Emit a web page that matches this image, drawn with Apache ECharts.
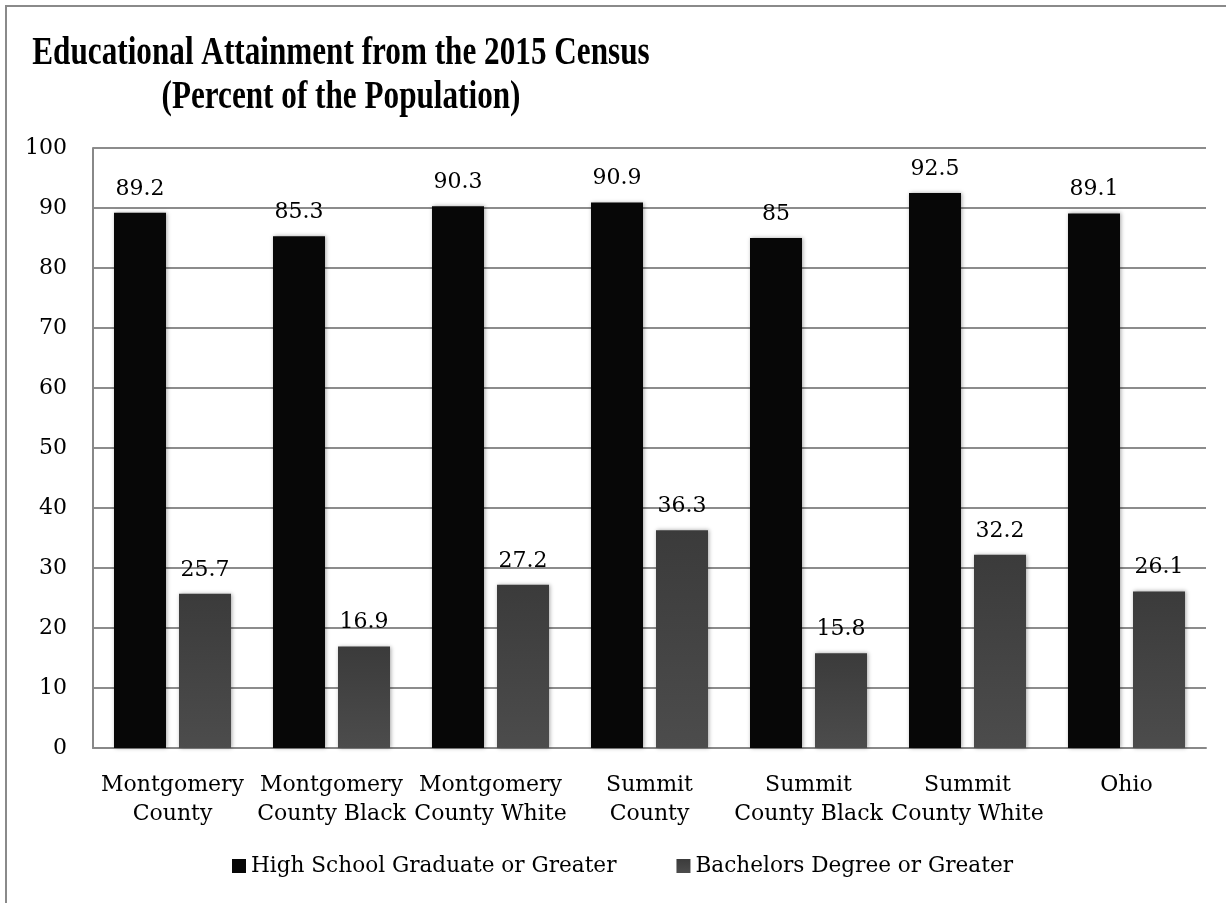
<!DOCTYPE html>
<html>
<head>
<meta charset="utf-8">
<script src="https://cdn.jsdelivr.net/npm/echarts@6/dist/echarts.min.js"></script>
<style>
  html, body { margin: 0; padding: 0; background: #ffffff; }
  #chart { width: 1226px; height: 903px; }
</style>
</head>
<body>
<div id="chart"></div>
<script>
// Census 2015 educational attainment, percent of population
const categories = [
  'Montgomery\nCounty',
  'Montgomery\nCounty Black',
  'Montgomery\nCounty White',
  'Summit\nCounty',
  'Summit\nCounty Black',
  'Summit\nCounty White',
  'Ohio'
];
const highSchool = [89.2, 85.3, 90.3, 90.9, 85, 92.5, 89.1];
const bachelors = [25.7, 16.9, 27.2, 36.3, 15.8, 32.2, 26.1];
const seriesNames = ['High School Graduate or Greater', 'Bachelors Degree or Greater'];
const titleLines = ['Educational Attainment from the 2015 Census', '(Percent of the Population)'];

const serif = '"DejaVu Serif", "Liberation Serif", serif';
const titleFont = 'bold 39px "Liberation Serif", serif';

const chart = echarts.init(document.getElementById('chart'), null, { renderer: 'canvas' });

const labelStyle = {
  show: true,
  position: 'top',
  distance: 13,
  fontFamily: serif,
  fontSize: 22,
  color: '#000'
};

// condensed bold heading, drawn as two centred lines
const titleText = (text, y) => ({
  type: 'text',
  silent: true,
  x: 341,
  y: y,
  scaleX: 0.8,
  style: {
    text: text,
    font: titleFont,
    fill: '#000',
    textAlign: 'center',
    textVerticalAlign: 'middle'
  }
});

chart.setOption({
  backgroundColor: '#ffffff',
  animation: false,
  graphic: [
    {
      type: 'rect',
      silent: true,
      shape: { x: 6, y: 6, width: 1400, height: 1000 },
      style: { fill: 'none', stroke: '#8a8a8a', lineWidth: 2 }
    },
    titleText(titleLines[0], 54),
    titleText(titleLines[1], 98)
  ],
  legend: {
    data: seriesNames,
    bottom: 21,
    left: 227,
    itemWidth: 14,
    itemHeight: 14,
    itemGap: 60,
    icon: 'rect',
    textStyle: { fontFamily: serif, fontSize: 21.6, color: '#000', padding: [0, 0, 0, 0] }
  },
  grid: { left: 93, right: 20, top: 148, bottom: 155 },
  xAxis: {
    type: 'category',
    data: categories,
    axisLine: { lineStyle: { color: '#888', width: 2 } },
    axisTick: { show: false },
    axisLabel: {
      fontFamily: serif,
      fontSize: 22,
      lineHeight: 29,
      color: '#000',
      margin: 23,
      interval: 0
    }
  },
  yAxis: {
    type: 'value',
    min: 0,
    max: 100,
    interval: 10,
    axisLine: { show: true, lineStyle: { color: '#888', width: 2 } },
    axisTick: { show: false },
    splitLine: { lineStyle: { color: '#8c8c8c', width: 2 } },
    axisLabel: { fontFamily: serif, fontSize: 22, color: '#000', margin: 26 }
  },
  series: [
    {
      name: seriesNames[0],
      type: 'bar',
      data: highSchool,
      barWidth: 52,
      barGap: '25%',
      itemStyle: {
        color: '#070707',
        shadowColor: 'rgba(0,0,0,0.35)',
        shadowBlur: 4,
        shadowOffsetX: 1
      },
      label: labelStyle
    },
    {
      name: seriesNames[1],
      type: 'bar',
      data: bachelors,
      barWidth: 52,
      itemStyle: {
        color: new echarts.graphic.LinearGradient(0, 0, 0, 1, [
          { offset: 0, color: '#3b3b3b' },
          { offset: 1, color: '#4c4c4c' }
        ]),
        shadowColor: 'rgba(0,0,0,0.35)',
        shadowBlur: 4,
        shadowOffsetX: 1
      },
      label: labelStyle
    }
  ]
});
</script>
</body>
</html>
